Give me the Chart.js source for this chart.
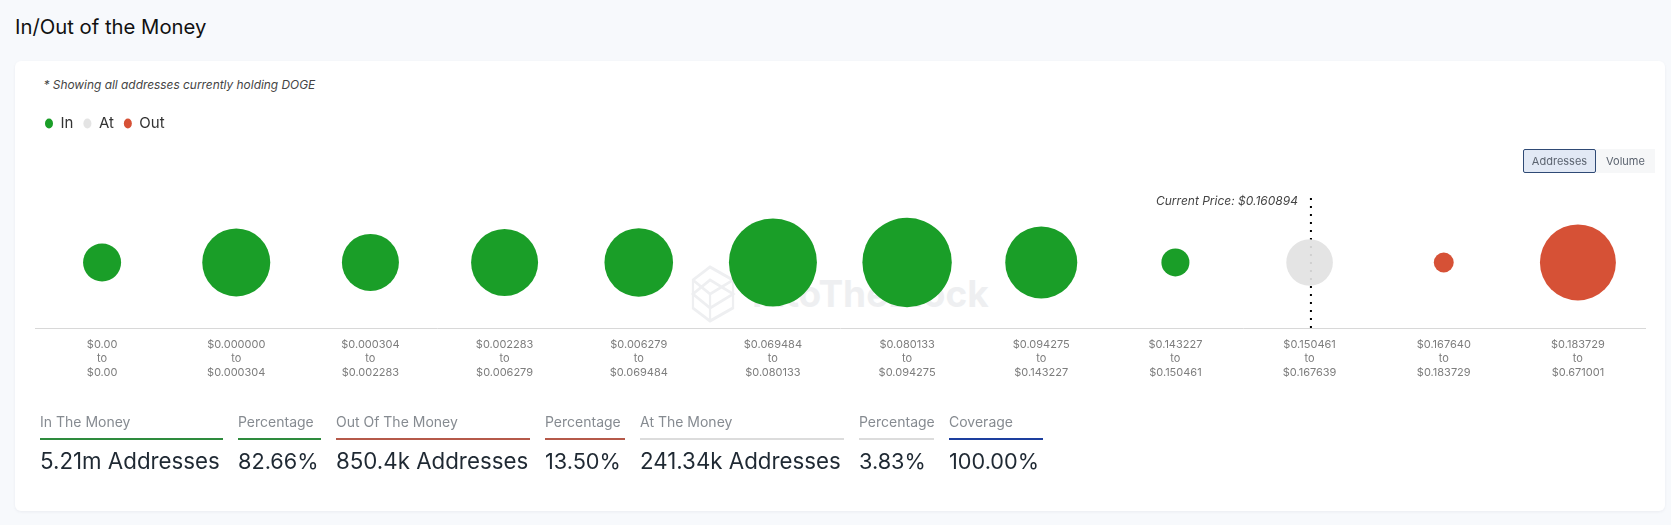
<!DOCTYPE html>
<html>
<head>
<meta charset="utf-8">
<title>In/Out of the Money</title>
<script src="https://cdn.jsdelivr.net/npm/chart.js@4"></script>
<style>
  html, body { margin: 0; padding: 0; }
  body { width: 1671px; height: 525px; overflow: hidden; background: #f7f9fc; font-family: Inter, sans-serif; position: relative; }
  .title { position: absolute; left: 15px; top: 13px; font-size: 20.3px; font-weight: 400; line-height: 28px; color: #111; }
  .card { position: absolute; left: 15px; top: 61px; width: 1650px; height: 450px; background: #fff; border-radius: 6px; box-shadow: 0 1px 3px rgba(30,40,70,.06); }
  .note { position: absolute; left: 43.5px; top: 77px; font-size: 11.9px; font-style: italic; line-height: 16px; color: #444; }
  .watermark { position: absolute; left: 690px; top: 265px; display: flex; align-items: center; color: #eeeff1; font-weight: 700; font-size: 37px; line-height: 58px; }
  .watermark svg { width: 46px; height: 58px; margin-right: 16px; }
  canvas { position: absolute; left: 0; top: 0; }
  .buttons { position: absolute; left: 1523px; top: 149px; display: flex; font-size: 11px; line-height: 22px; color: #5c6470; }
  .buttons div { height: 24px; box-sizing: border-box; text-align: center; }
  .buttons .on { background: #e2e9f5; border: 1px solid #2f4a75; border-radius: 2px; width: 73px; }
  .buttons .off { background: #f6f7f8; width: 59px; line-height: 24px; }
  .stats { position: absolute; left: 40px; top: 412px; display: flex; gap: 15px; }
  .stat:nth-child(1) { width: 183px; }
  .stat:nth-child(2) { width: 83px; }
  .stat:nth-child(3) { width: 194px; }
  .stat:nth-child(4) { width: 80px; }
  .stat:nth-child(5) { width: 204px; }
  .stat:nth-child(6) { width: 75px; }
  .stat:nth-child(7) { width: 94px; }
  .stat .name { font-size: 14px; line-height: 20px; color: #868b91; border-bottom: 2px solid #000; padding-bottom: 6px; white-space: nowrap; }
  .stat .val { font-size: 22.3px; line-height: 30px; margin-top: 6px; color: #1f2933; white-space: nowrap; }
  .stat .val.pct { font-size: 21.7px; }
</style>
</head>
<body>
<div class="title">In/Out of the Money</div>
<div class="card"></div>
<div class="note">* Showing all addresses currently holding DOGE</div>
<div class="watermark">
  <svg viewBox="0 0 62 58" preserveAspectRatio="none" fill="none" stroke="#eeeff1" stroke-width="3"><path d="M4 15 L27 2 L58 15 L58 43 L27 56 L4 43 Z M4 15 L27 29 L58 15 M27 29 L27 56 M4 29 L27 15 L58 29 L27 43 Z"/></svg>
  <span>IntoTheBlock</span>
</div>
<canvas id="chart" width="1671" height="525"></canvas>
<div class="buttons"><div class="on">Addresses</div><div class="off">Volume</div></div>
<div class="stats" id="stats"></div>

<script>
const rangeStart = ["$0.00", "$0.000000", "$0.000304", "$0.002283", "$0.006279", "$0.069484", "$0.080133", "$0.094275", "$0.143227", "$0.150461", "$0.167640", "$0.183729"]
const rangeEnd = ["$0.00", "$0.000304", "$0.002283", "$0.006279", "$0.069484", "$0.080133", "$0.094275", "$0.143227", "$0.150461", "$0.167639", "$0.183729", "$0.671001"]

// addresses per price range
const inAddresses = [146000, 583000, 389000, 563000, 594000, 1036000, 1072000, 663000, 65000, null, null, null]
const atAddresses = [null, null, null, null, null, null, null, null, null, 241340, null, null]
const outAddresses = [null, null, null, null, null, null, null, null, null, null, 23000, 748000]

const currentPrice = "$0.160894"
const currentPricePos = 9.51

const statNames = ["In The Money", "Percentage", "Out Of The Money", "Percentage", "At The Money", "Percentage", "Coverage"]
const statValues = ["5.21m Addresses", "82.66%", "850.4k Addresses", "13.50%", "241.34k Addresses", "3.83%", "100.00%"]
const statColors = ["#2e8b3d", "#2e8b3d", "#b5594a", "#b5594a", "#dcdcdc", "#dcdcdc", "#1d3f9e"]

const statsEl = document.getElementById("stats")
statNames.forEach((name, i) => {
    const el = document.createElement("div")
    el.className = "stat"
    const valClass = statValues[i].endsWith("%") ? "val pct" : "val"
    el.innerHTML = `<div class="name" style="border-color:${statColors[i]}">${name}</div><div class="${valClass}">${statValues[i]}</div>`
    statsEl.appendChild(el)
})

const toBubbles = (values) => values
    .map((v, i) => v === null ? null : { x: i + 0.5, y: 0, r: 4 + 0.0393 * Math.sqrt(v) })
    .filter((p) => p !== null)

const priceLabel = {
    id: "priceLabel",
    afterDraw(chart) {
        const ctx = chart.ctx
        const x = chart.scales.x.getPixelForValue(currentPricePos)
        const y = chart.scales.y.getPixelForValue(1)
        ctx.save()
        ctx.font = "italic 12px Inter"
        ctx.fillStyle = "#444"
        ctx.textAlign = "right"
        ctx.textBaseline = "middle"
        ctx.fillText("Current Price: " + currentPrice, x - 13, y + 5)
        ctx.restore()
    }
}

new Chart(document.getElementById("chart"), {
    data: {
        datasets: [
            { type: "bubble", label: "In", data: toBubbles(inAddresses), backgroundColor: "#1a9e28", borderWidth: 0, order: 1 },
            { type: "bubble", label: "At", data: toBubbles(atAddresses), backgroundColor: "rgba(226,226,226,0.92)", borderWidth: 0, order: 1 },
            { type: "bubble", label: "Out", data: toBubbles(outAddresses), backgroundColor: "#d65136", borderWidth: 0, order: 1 },
            {
                type: "line",
                label: "Current Price",
                data: [{ x: currentPricePos, y: -1 }, { x: currentPricePos, y: 1 }],
                borderColor: "#000",
                borderWidth: 2,
                borderDash: [2, 6],
                pointRadius: 0,
                order: 2
            }
        ]
    },
    plugins: [priceLabel],
    options: {
        responsive: false,
        animation: false,
        layout: { autoPadding: false, padding: { left: 35, right: 26, top: 106, bottom: 143 } },
        plugins: {
            tooltip: { enabled: false },
            legend: {
                position: "top",
                align: "start",
                labels: {
                    filter: (item) => item.text !== "Current Price",
                    usePointStyle: true,
                    pointStyle: "circle",
                    pointStyleWidth: 8,
                    boxWidth: 8,
                    boxHeight: 7,
                    padding: 10,
                    color: "#333",
                    font: { family: "Inter", size: 15 }
                }
            }
        },
        scales: {
            x: {
                type: "linear",
                min: 0,
                max: 12,
                afterBuildTicks: (axis) => { axis.ticks = rangeStart.map((_, i) => ({ value: i + 0.5 })) },
                afterFit: (axis) => { axis.paddingLeft = 0; axis.paddingRight = 0 },
                grid: { display: false },
                border: { color: "#d8d8d8" },
                ticks: {
                    autoSkip: false,
                    maxRotation: 0,
                    padding: 2,
                    color: "#7d7d7d",
                    font: { family: "Inter", size: 11, lineHeight: 1.27 },
                    callback: (v) => [rangeStart[v - 0.5], "to", rangeEnd[v - 0.5]]
                }
            },
            y: { display: false, min: -1, max: 1.85 }
        }
    }
})
</script>
</body>
</html>
